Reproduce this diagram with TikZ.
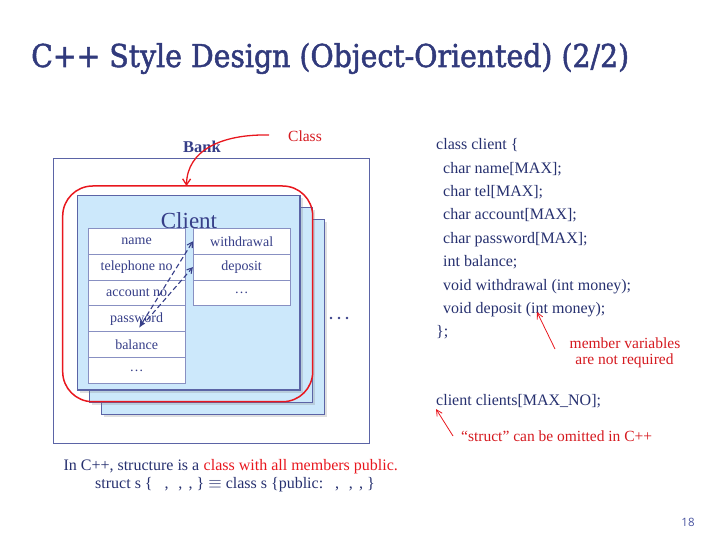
\documentclass[tikz,border=0pt]{standalone}
\usepackage{fontspec}
\setmainfont{Liberation Serif}
\newfontfamily\titlefont[FakeBold=1.6]{DejaVu Serif Condensed}
\newfontfamily\numfont{Open Sans}
\usetikzlibrary{arrows.meta,shadows,calc}

\definecolor{titleblue}{HTML}{313A7C}
\definecolor{navy}{HTML}{26306F}
\definecolor{celltext}{HTML}{363E88}
\definecolor{boxline}{HTML}{5B64A6}
\definecolor{cellline}{HTML}{8890C2}
\definecolor{paleblue}{HTML}{CCE8FB}
\definecolor{accent}{HTML}{E8171E}
\definecolor{notered}{HTML}{D5191F}
\definecolor{pagenum}{HTML}{4A55A0}

\tikzset{
  clientbox/.style={draw=boxline, line width=1.1pt, fill=paleblue,
    drop shadow={shadow xshift=2.5pt, shadow yshift=-2.5pt, opacity=0.25}},
  cell/.style={draw=cellline, line width=0.9pt, fill=white, minimum width=96.7pt,
    minimum height=25.8pt, inner sep=0pt, text=celltext,
    font=\fontsize{14}{15}\selectfont},
  codeline/.style={anchor=base west, inner sep=0pt, text=navy,
    font=\fontsize{16}{19}\selectfont},
  notetext/.style={anchor=base, inner sep=0pt, text=notered,
    font=\fontsize{15.5}{18}\selectfont},
  remark/.style={anchor=base west, inner sep=0pt, font=\fontsize{16}{18}\selectfont},
  dasharrow/.style={draw=celltext, line width=1.1pt, dash pattern=on 5pt off 3pt},
  pointer/.style={draw=accent, line width=0.8pt, -{Straight Barb[length=6pt,width=6pt]}},
}

\begin{document}
\begin{tikzpicture}[x=1pt,y=-1pt]
\useasboundingbox (0,0) rectangle (720,540);

% heading
\node[anchor=base west, inner sep=0pt, text=titleblue,
      font=\titlefont\fontsize{31.5}{36}\selectfont] (title) at (31,67)
  {C++ Style Design (Object-Oriented) (2/2)};

% bank container
\draw[draw=boxline, line width=1.3pt] (53.3,158.3) rectangle (369.3,443.3);
\node[inner sep=0pt, text=celltext, font=\bfseries\fontsize{16.5}{19}\selectfont] (bank) at (202,147) {Bank};

% stacked client objects
\path[clientbox] (101.7,219.3) rectangle (324.3,414.3);
\path[clientbox] (89.3,207.7) rectangle (312.7,402.3);
\path[clientbox] (77.7,195.3) rectangle (300,390);
\node[inner sep=0pt, text=celltext, font=\fontsize{23}{26}\selectfont] (client) at (189,221) {Client};

% member variables
\node[cell] (nm) at (136.65,241.4) {name};
\node[cell] (tel) at (136.65,267.2) {telephone no};
\node[cell] (acc) at (136.65,293.0) {account no};
\node[cell] (pw) at (136.65,318.8) {password};
\node[cell] (bal) at (136.65,344.6) {balance};
\node[cell] (mvd) at (136.65,370.4) {\dots};

% member functions
\node[cell] (wd) at (241.65,241.4) {withdrawal};
\node[cell] (dp) at (241.65,267.2) {deposit};
\node[cell] (mfd) at (241.65,293.0) {\dots};

% access arrows
\coordinate (pwtip) at (139,328);
\coordinate (pwfrom) at (147,320);
\draw[dasharrow, {Latex[length=7pt,width=6pt]}-{Straight Barb[length=5pt,width=6pt]}] (pwtip) -- (wd.west);
\draw[dasharrow, -{Straight Barb[length=5pt,width=6pt]}] (pwfrom) -- (dp.west);

% more objects
\foreach \dx in {331,339,347} \fill[celltext] (\dx,318) circle (1.4pt);

% class outline and its label
\draw[accent, line width=1.5pt, rounded corners=30pt] (62.7,186) rectangle (312.7,401.7);
\node[anchor=base, inner sep=0pt, text=notered, font=\fontsize{15.5}{18}\selectfont] (classlbl) at (305,142) {Class};
\coordinate (curvestart) at (269,135);
\coordinate (curveend) at (186.5,186);
\draw[accent, line width=1.3pt, -{Straight Barb[length=6pt,width=8pt]}]
  (curvestart) .. controls (222,134) and (187,150) .. (curveend);

% class declaration
\node[codeline] (l1) at (436,150) {class client \{};
\node[codeline] (l2) at (443,173.3) {char name[MAX];};
\node[codeline] (l3) at (443,196.7) {char tel[MAX];};
\node[codeline] (l4) at (443,220) {char account[MAX];};
\node[codeline] (l5) at (443,243.3) {char password[MAX];};
\node[codeline] (l6) at (443,266.7) {int balance;};
\node[codeline] (l7) at (443,290) {void withdrawal (int money);};
\node[codeline] (l8) at (443,313.3) {void deposit (int money);};
\node[codeline] (l9) at (436,336.6) {\};};

\node[notetext] (mv1) at (625,348.3) {member variables};
\node[notetext] (mv2) at (624.5,364.3) {are not required};
\coordinate (mvtail) at (555,349);
\coordinate (mvtip) at (537,312);
\draw[pointer] (mvtail) -- (mvtip);

\node[codeline] (arr) at (436,405) {client clients[MAX\_NO];};
\node[anchor=base west, inner sep=0pt, text=notered, font=\fontsize{15.5}{18}\selectfont] (omit) at (461,441) {“struct” can be omitted in C++};
\coordinate (omtail) at (453,436);
\coordinate (omtip) at (436,409);
\draw[pointer] (omtail) -- (omtip);

% remark below
\node[remark, text=navy] (rem1) at (63.3,470) {In C++, structure is a};
\node[remark, text=accent, xshift=4pt] (rem1r) at (rem1.base east) {class with all members public.};
\node[remark, text=navy] (rem2) at (95,488.3)
  {struct s \{\hspace{0.75em},\hspace{0.6em},\hspace{0.4em},\hspace{0.25em}\} $\equiv$ class s \{public:\hspace{0.75em},\hspace{0.6em},\hspace{0.4em},\hspace{0.25em}\}};

% page number
\node[inner sep=0pt, text=pagenum, font=\numfont\fontsize{11.5}{13}\selectfont] (pg) at (688,522) {18};
\end{tikzpicture}
\end{document}
